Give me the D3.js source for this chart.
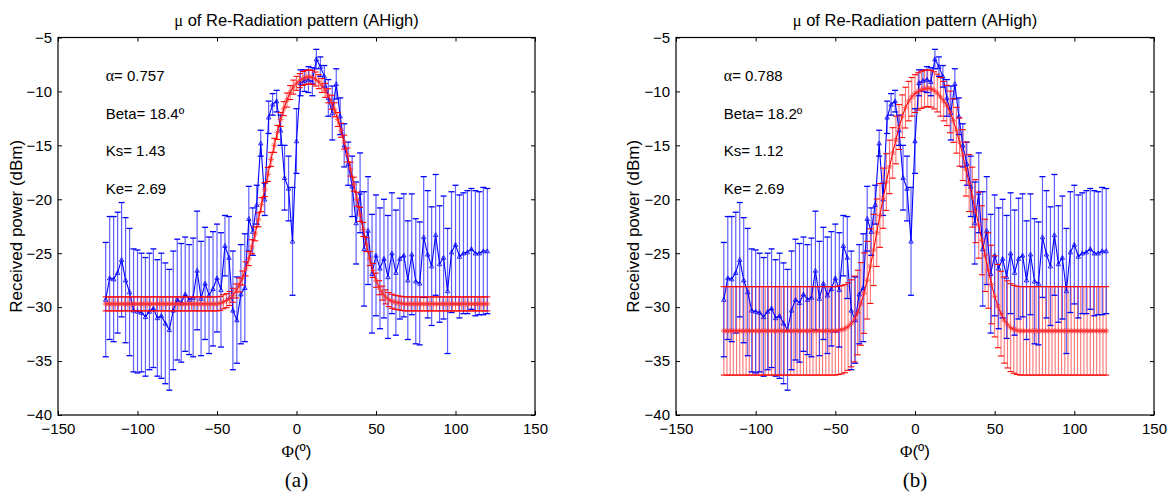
<!DOCTYPE html>
<html><head><meta charset="utf-8">
<script src="https://cdn.jsdelivr.net/npm/d3@7"></script>
<style>body{margin:0;background:#fff}svg{display:block}</style>
</head><body><svg id="c" width="1170" height="495"></svg>
<script>
// ---------- data ----------
const xTicks = [-150, -100, -50, 0, 50, 100, 150];
const yTicks = [-40, -35, -30, -25, -20, -15, -10, -5];
const titleText = "of Re-Radiation pattern (AHigh)";
const yLabel = "Received power (dBm)";

// measured (blue), 2.5 deg step from -120 to 120
const blueX = d3.range(-120, 120.01, 2.5);
const blueMean = [
 -29.3,-27.3,-27.4,-26.8,-25.6,-27.5,-28.6,-30.3,-30.4,-30.5,
 -30.9,-30.4,-30.1,-31.0,-30.8,-31.5,-32.1,-30.3,-29.3,-29.6,
 -28.8,-29.3,-29.1,-26.6,-29.2,-27.8,-28.9,-28.3,-27.3,-28.4,
 -24.3,-25.4,-30.3,-31.2,-28.8,-28.2,-21.8,
 -23.0,-20.5,-14.8,-20.0,-12.4,-11.2,-10.9,-13.6,-18.0,-19.0,-23.9,-14.6,
 -9.2,-9.0,-8.9,-9.1,-7.0,-7.7,-8.6,-10.6,-12.0,-9.3,-12.3,-15.0,-16.7,-18.8,-22.2,-19.4,
 -24.6,-22.9,-26.9,-25.2,-26.4,-25.5,-27.2,-25.0,-26.8,-25.5,
 -25.2,-27.5,-25.1,-27.6,-27.8,-23.5,-25.1,-26.2,-23.3,-26.0,
 -25.4,-28.5,-24.9,-24.2,-25.3,-25.0,-24.9,-24.6,-25.0,-25.0,
 -24.8,-24.8
];
const blueErr = [
 5.3,5.7,5.8,5.6,5.3,5.8,5.9,5.7,5.7,5.5,
 5.5,5.4,5.5,5.4,5.8,5.6,5.6,5.5,5.6,5.5,
 5.3,5.1,5.5,5.5,5.3,5.2,5.4,5.3,5.0,5.3,
 2.8,3.8,5.5,4.0,4.6,5.0,3.0,
 2.2,1.8,1.2,1.5,1.5,1.0,1.0,1.4,3.0,3.0,5.0,3.0,
 1.2,1.0,1.2,1.3,0.9,0.9,1.0,1.7,2.5,1.4,1.7,2.0,2.0,2.8,3.8,3.7,
 5.3,5.0,5.5,5.6,5.6,5.5,5.7,5.6,5.8,5.6,
 5.7,5.5,5.6,5.8,5.7,5.6,5.9,5.5,5.6,5.4,
 5.7,5.8,5.6,5.5,5.7,5.6,5.7,5.6,5.8,5.7,
 5.9,5.8
];

// model (red), 2 deg step from -120 to 120
const redX = d3.range(-120, 120.01, 2);
const redMeanA = [
 -29.7,-29.7,-29.7,-29.7,-29.7,-29.7,-29.7,-29.7,-29.7,-29.7,
 -29.7,-29.7,-29.7,-29.7,-29.7,-29.7,-29.7,-29.7,-29.7,-29.7,
 -29.7,-29.7,-29.7,-29.7,-29.7,-29.7,-29.7,-29.7,-29.7,-29.7,
 -29.7,-29.7,-29.7,-29.7,-29.7,-29.7,
 -29.65,-29.5,-29.4,-29.2,-28.9,-28.5,-27.95,-27.3,-26.45,-25.5,
 -24.4,-23.2,-21.9,-20.5,-19.1,-17.7,-16.3,-15.0,-13.8,-12.6,
 -11.6,-10.8,-10.1,-9.6,-9.25,-9.0,-8.8,-8.7,-8.65,-8.7,
 -8.85,-9.1,-9.45,-9.9,-10.4,-11.0,-11.7,-12.6,-13.6,-14.7,
 -15.9,-17.2,-18.6,-20.0,-21.4,-22.8,-24.2,-25.5,-26.6,-27.5,
 -28.2,-28.7,-29.05,-29.3,-29.45,-29.55,-29.6,-29.65,
 -29.7,-29.7,-29.7,-29.7,-29.7,-29.7,-29.7,-29.7,-29.7,-29.7,
 -29.7,-29.7,-29.7,-29.7,-29.7,-29.7,-29.7,-29.7,-29.7,-29.7,
 -29.7,-29.7,-29.7,-29.7,-29.7,-29.7,-29.7
];
const redErrA = 0.65;
const redMeanB = [
 -32.2,-32.2,-32.2,-32.2,-32.2,-32.2,-32.2,-32.2,-32.2,-32.2,
 -32.2,-32.2,-32.2,-32.2,-32.2,-32.2,-32.2,-32.2,-32.2,-32.2,
 -32.2,-32.2,-32.2,-32.2,-32.2,-32.2,-32.2,-32.2,-32.2,-32.2,
 -32.2,-32.2,-32.2,-32.2,-32.2,-32.2,
 -32.15,-32.1,-32.0,-31.8,-31.5,-31.1,-30.5,-29.7,-28.7,-27.5,
 -26.2,-24.7,-23.1,-21.5,-19.9,-18.4,-17.0,-15.7,-14.5,-13.3,
 -12.3,-11.5,-10.9,-10.5,-10.2,-10.0,-9.85,-9.75,-9.7,-9.75,
 -9.9,-10.15,-10.5,-10.9,-11.3,-11.9,-12.7,-13.6,-14.7,-15.9,
 -17.2,-18.5,-19.8,-21.1,-22.4,-23.8,-25.2,-26.6,-27.9,-29.0,
 -29.9,-30.6,-31.2,-31.6,-31.9,-32.05,-32.15,-32.2,
 -32.2,-32.2,-32.2,-32.2,-32.2,-32.2,-32.2,-32.2,-32.2,-32.2,
 -32.2,-32.2,-32.2,-32.2,-32.2,-32.2,-32.2,-32.2,-32.2,-32.2,
 -32.2,-32.2,-32.2,-32.2,-32.2,-32.2,-32.2
];
const redErrB = [
 4.1,4.1,4.1,4.1,4.1,4.1,4.1,4.1,4.1,4.1,
 4.1,4.1,4.1,4.1,4.1,4.1,4.1,4.1,4.1,4.1,
 4.1,4.1,4.1,4.1,4.1,4.1,4.1,4.1,4.1,4.1,
 4.1,4.1,4.1,4.1,4.1,4.1,
 4.1,4.09,4.08,4.06,4.03,3.98,3.92,3.83,3.73,3.6,
 3.46,3.3,3.13,2.96,2.79,2.63,2.48,2.34,2.21,2.08,
 1.98,1.89,1.83,1.79,1.75,1.73,1.72,1.71,1.7,1.71,
 1.72,1.75,1.79,1.83,1.87,1.93,2.02,2.12,2.23,2.36,
 2.5,2.64,2.78,2.92,3.06,3.2,3.35,3.5,3.64,3.76,
 3.86,3.93,3.99,4.04,4.07,4.08,4.09,4.1,
 4.1,4.1,4.1,4.1,4.1,4.1,4.1,4.1,4.1,4.1,
 4.1,4.1,4.1,4.1,4.1,4.1,4.1,4.1,4.1,4.1,
 4.1,4.1,4.1,4.1,4.1,4.1,4.1
];

const annoY = [-8.5, -12, -15.5, -19];
const annoA = ["0.757", "18.4", "1.43", "2.69"];
const annoB = ["0.788", "18.2", "1.12", "2.69"];
const panelLabels = ["(a)", "(b)"];

// ---------- drawing ----------
const svg = d3.select("#c");
const SANS = "'Liberation Sans', Arial, sans-serif";
const SERIF = "'Liberation Serif', 'Times New Roman', serif";

const panels = [
  {x0: 58, x1: 535, ylabX: 21.5, redMean: redMeanA, redErr: () => redErrA, anno: annoA, lab: panelLabels[0]},
  {x0: 676, x1: 1154, ylabX: 639, redMean: redMeanB, redErr: i => redErrB[i], anno: annoB, lab: panelLabels[1]}
];
const yTop = 37.5, yBot = 415;

panels.forEach(p => {
  const x = d3.scaleLinear().domain([-150, 150]).range([p.x0, p.x1]);
  const y = d3.scaleLinear().domain([-40, -5]).range([yBot, yTop]);
  const g = svg.append("g");
  const cx = (p.x0 + p.x1) / 2;

  // axes (ticks inside)
  const tl = 4;
  const ax = g.append("g").attr("font-family", SANS).attr("font-size", 15);
  ax.append("rect").attr("x", p.x0).attr("y", yTop).attr("width", p.x1 - p.x0).attr("height", yBot - yTop)
    .attr("fill", "none").attr("stroke", "#000").attr("stroke-width", 1.2);
  const bx = d3.axisBottom(x).tickValues(xTicks).tickSize(-tl).tickPadding(8);
  const gx = ax.append("g").attr("transform", `translate(0,${yBot})`).call(bx);
  const tx = d3.axisTop(x).tickValues(xTicks).tickSize(-tl).tickFormat("");
  const gtx = ax.append("g").attr("transform", `translate(0,${yTop})`).call(tx);
  const ly = d3.axisLeft(y).tickValues(yTicks).tickSize(-tl).tickPadding(6);
  const gy = ax.append("g").attr("transform", `translate(${p.x0},0)`).call(ly);
  const ry = d3.axisRight(y).tickValues(yTicks).tickSize(-tl).tickFormat("");
  const gry = ax.append("g").attr("transform", `translate(${p.x1},0)`).call(ry);
  [gx, gtx, gy, gry].forEach(a => {
    a.select(".domain").remove();
    a.selectAll("line").attr("stroke", "#000");
    a.selectAll("text").attr("fill", "#000").attr("font-family", SANS).attr("font-size", 15);
  });
  gx.selectAll("text").attr("dy", "0.71em");

  const rd = redX.map((v, i) => ({x: v, m: p.redMean[i], e: p.redErr(i)}));
  const bd = blueX.map((v, i) => ({x: v, m: blueMean[i], e: blueErr[i]}));
  const cw = 3;

  // red error bar verticals (behind)
  g.append("g").selectAll("line").data(rd).join("line")
    .attr("x1", d => x(d.x)).attr("x2", d => x(d.x))
    .attr("y1", d => y(d.m + d.e)).attr("y2", d => y(d.m - d.e))
    .attr("stroke", "#ff0000").attr("stroke-opacity", 0.55).attr("stroke-width", 1.1);

  // blue error bars
  g.append("g").selectAll("line").data(bd).join("line")
    .attr("x1", d => x(d.x)).attr("x2", d => x(d.x))
    .attr("y1", d => y(d.m + d.e)).attr("y2", d => y(d.m - d.e))
    .attr("stroke", "#2a2aff").attr("stroke-opacity", 0.75).attr("stroke-width", 1.2);
  const bc = g.append("g").attr("stroke", "#0000ff").attr("stroke-width", 1.3);
  bd.forEach(d => {
    [d.m + d.e, d.m - d.e].forEach(v => {
      bc.append("line").attr("x1", x(d.x) - cw).attr("x2", x(d.x) + cw)
        .attr("y1", y(v)).attr("y2", y(v));
    });
  });
  // blue line + small triangle markers
  const line = d3.line().x(d => x(d.x)).y(d => y(d.m));
  g.append("path").datum(bd).attr("d", line).attr("fill", "none")
    .attr("stroke", "#0000ff").attr("stroke-width", 1.1);
  g.append("g").selectAll("path").data(bd).join("path")
    .attr("d", d => {
      const px = x(d.x), py = y(d.m), s = 2.2;
      return `M${px},${py - s}L${px + s},${py + s * 0.8}L${px - s},${py + s * 0.8}Z`;
    })
    .attr("fill", "none").attr("stroke", "#0000ff").attr("stroke-width", 0.8);

  // red caps, line, asterisk markers
  const rc = g.append("g").attr("stroke", "#ff0000").attr("stroke-width", 1.1);
  rd.forEach(d => {
    [d.m + d.e, d.m - d.e].forEach(v => {
      rc.append("line").attr("x1", x(d.x) - cw).attr("x2", x(d.x) + cw)
        .attr("y1", y(v)).attr("y2", y(v));
    });
  });
  g.append("path").datum(rd).attr("d", line).attr("fill", "none")
    .attr("stroke", "#ff0000").attr("stroke-width", 1.1);
  g.append("g").selectAll("path").data(rd).join("path")
    .attr("d", d => {
      const px = x(d.x), py = y(d.m), s = 3, t = 2.1;
      return `M${px - s},${py}L${px + s},${py}M${px},${py - s}L${px},${py + s}` +
             `M${px - t},${py - t}L${px + t},${py + t}M${px - t},${py + t}L${px + t},${py - t}`;
    })
    .attr("fill", "none").attr("stroke", "#ff3030").attr("stroke-opacity", 0.8).attr("stroke-width", 0.9);

  // annotations
  const names = ["α= ", "Beta= ", "Ks= ", "Ke= "];
  const suffix = ["", "º", "", ""];
  names.forEach((n, i) => {
    const t = g.append("text").attr("x", x(-120)).attr("y", y(annoY[i]))
      .attr("dominant-baseline", "central").attr("font-family", SANS).attr("font-size", 15).attr("fill", "#000");
    if (i === 0) {
      t.append("tspan").attr("font-family", SERIF).attr("font-size", 16).text("α");
      t.append("tspan").text("= " + p.anno[i]);
    } else {
      t.text(n + p.anno[i] + suffix[i]);
    }
  });

  // title
  const tt = g.append("text").attr("x", cx).attr("y", 26).attr("text-anchor", "middle")
    .attr("font-family", SANS).attr("font-size", 16.5).attr("fill", "#000");
  tt.append("tspan").attr("font-family", SERIF).text("μ");
  tt.append("tspan").text(" " + titleText);

  // y label
  g.append("text").attr("transform", `translate(${p.ylabX},${(yTop + yBot) / 2}) rotate(-90)`)
    .attr("text-anchor", "middle").attr("font-family", SANS).attr("font-size", 17).attr("fill", "#000")
    .text(yLabel);

  // x label
  const xl = g.append("text").attr("x", cx).attr("y", 457).attr("text-anchor", "middle")
    .attr("font-family", SANS).attr("font-size", 17).attr("fill", "#000");
  xl.append("tspan").attr("font-family", SERIF).text("Φ");
  xl.append("tspan").text("(º)");

  // panel label
  g.append("text").attr("x", cx).attr("y", 487).attr("text-anchor", "middle")
    .attr("font-family", SERIF).attr("font-size", 21).attr("fill", "#000").text(p.lab);
});
</script></body></html>
